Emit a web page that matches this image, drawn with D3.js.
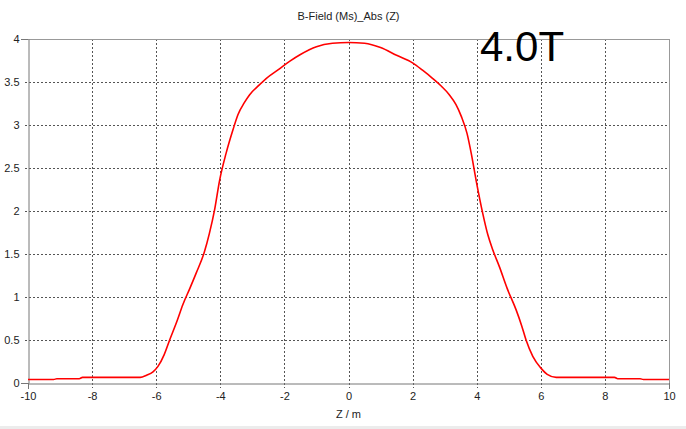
<!DOCTYPE html>
<html><head><meta charset="utf-8">
<script src="https://cdn.jsdelivr.net/npm/d3@7"></script>
<style>body{margin:0;background:#fff;}svg{display:block;}</style>
</head><body>
<svg id="chart" width="686" height="429"></svg>
<script>
const zValues = [-10, -9.2, -9.1, -8.4, -8.3, -6.5, -6.3, -6.1, -5.95, -5.75, -5.58, -5.35, -5.17, -4.95, -4.75, -4.5, -4.34, -4.18, -4.02, -3.82, -3.6, -3.45, -3.25, -3.09, -2.8, -2.57, -2.2, -1.84, -1.5, -1, -0.5, 0, 0.5, 1, 1.5, 2.01, 2.3, 2.63, 2.9, 3.15, 3.35, 3.52, 3.7, 3.83, 3.98, 4.19, 4.35, 4.5, 4.71, 4.95, 5.23, 5.4, 5.54, 5.75, 6.01, 6.2, 6.48, 8.3, 8.4, 9.1, 9.2, 10];
const bValues = [0.04, 0.04, 0.05, 0.05, 0.065, 0.065, 0.09, 0.13, 0.19, 0.33, 0.5, 0.72, 0.91, 1.1, 1.28, 1.52, 1.74, 2.01, 2.36, 2.67, 2.95, 3.12, 3.26, 3.35, 3.46, 3.54, 3.64, 3.74, 3.82, 3.91, 3.95, 3.96, 3.95, 3.9, 3.81, 3.72, 3.64, 3.54, 3.45, 3.35, 3.24, 3.10, 2.9, 2.67, 2.36, 1.97, 1.72, 1.55, 1.35, 1.1, 0.85, 0.67, 0.5, 0.31, 0.17, 0.1, 0.065, 0.065, 0.05, 0.05, 0.04, 0.04];
const xTicks = [-10, -8, -6, -4, -2, 0, 2, 4, 6, 8, 10];
const yTicks = [0, 0.5, 1, 1.5, 2, 2.5, 3, 3.5, 4];
const title = "B-Field (Ms)_Abs (Z)";
const xLabel = "Z / m";
const annotation = "4.0T";

const svg = d3.select("#chart");
const L = 28, R = 669, T = 39, B = 383;
const x = d3.scaleLinear().domain([-10, 10]).range([L, R]);
const y = d3.scaleLinear().domain([0, 4]).range([B, T]);
const font = "'Liberation Sans Narrow','Liberation Sans',Arial,sans-serif";

// grid
const inner = xTicks.filter(t => t > -10 && t < 10);
svg.append("g").selectAll("line").data(inner).join("line")
  .attr("x1", d => Math.round(x(d)) + 0.5).attr("x2", d => Math.round(x(d)) + 0.5)
  .attr("y1", T).attr("y2", B + 5)
  .attr("stroke", "#555").attr("stroke-dasharray", "2,2").attr("stroke-width", 1);
const innerY = yTicks.filter(t => t > 0 && t < 4);
svg.append("g").selectAll("line").data(innerY).join("line")
  .attr("y1", d => Math.round(y(d)) + 0.5).attr("y2", d => Math.round(y(d)) + 0.5)
  .attr("x1", L - 3).attr("x2", R)
  .attr("stroke", "#555").attr("stroke-dasharray", "2,2").attr("stroke-width", 1);

// frame
svg.append("line").attr("x1", L).attr("x2", R + 0.5).attr("y1", T + 0.5).attr("y2", T + 0.5).attr("stroke", "#999");
svg.append("line").attr("x1", R + 0.5).attr("x2", R + 0.5).attr("y1", T).attr("y2", B).attr("stroke", "#999");

// axes
const xAxis = d3.axisBottom(x).tickValues(xTicks).tickSize(0).tickPadding(9).tickFormat(d => String(d));
const gx = svg.append("g").attr("transform", `translate(0,${B + 0.5})`).call(xAxis);
gx.select(".domain").attr("stroke", "#777");
gx.selectAll("text").attr("font-family", font).attr("font-size", 11).attr("fill", "#222");
const yAxis = d3.axisLeft(y).tickValues(yTicks).tickSize(0).tickPadding(9).tickFormat(d => String(d));
const gy = svg.append("g").attr("transform", `translate(${L + 0.5},0)`).call(yAxis);
gy.select(".domain").attr("stroke", "#777");
gy.selectAll("text").attr("font-family", font).attr("font-size", 11).attr("fill", "#222");
// solid end ticks
[-10, 10].forEach(t => svg.append("line").attr("x1", Math.round(x(t)) + 0.5).attr("x2", Math.round(x(t)) + 0.5)
  .attr("y1", B).attr("y2", B + 6).attr("stroke", "#777"));
[0, 4].forEach(t => svg.append("line").attr("y1", Math.round(y(t)) + 0.5).attr("y2", Math.round(y(t)) + 0.5)
  .attr("x1", L - 7).attr("x2", L).attr("stroke", "#777"));

// curve
const data = zValues.map((z, i) => ({ z, b: bValues[i] }));
svg.append("path").datum(data)
  .attr("fill", "none").attr("stroke", "#ff0000").attr("stroke-width", 1.6)
  .attr("stroke-linejoin", "round")
  .attr("d", d3.line().x(d => x(d.z)).y(d => y(d.b)).curve(d3.curveMonotoneX));

// texts
svg.append("text").attr("x", x(0)).attr("y", 20).attr("text-anchor", "middle")
  .attr("font-family", font).attr("font-size", 11).attr("fill", "#222").text(title);
svg.append("text").attr("x", x(0)).attr("y", 418).attr("text-anchor", "middle")
  .attr("font-family", font).attr("font-size", 11).attr("fill", "#222").text(xLabel);
svg.append("text").attr("x", 480).attr("y", 61)
  .attr("font-family", "'Liberation Sans',Arial,sans-serif").attr("font-size", 42).attr("fill", "#000").text(annotation);

svg.append("rect").attr("x", 0).attr("y", 426).attr("width", 686).attr("height", 3).attr("fill", "#ececec");
</script>
</body></html>
